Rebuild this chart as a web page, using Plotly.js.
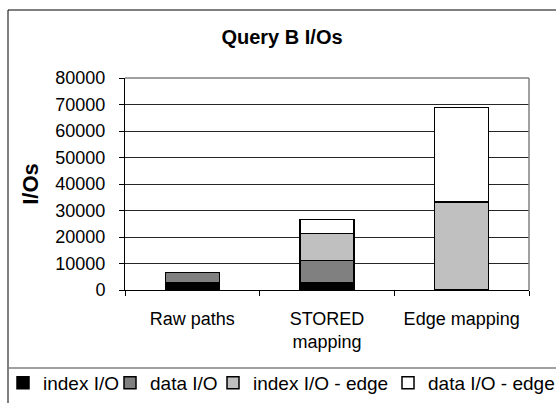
<!DOCTYPE html>
<html>
<head>
<meta charset="utf-8">
<script src="https://cdn.plot.ly/plotly-3.0.1.min.js"></script>
<style>html,body{margin:0;padding:0;background:#fff;}#chart{width:556px;height:403px;}</style>
</head>
<body>
<div id="chart"></div>
<script>
const categories = ["Raw paths", "STORED<br>mapping", "Edge mapping"];
const seriesNames = ["index I/O", "data I/O", "index I/O - edge", "data I/O - edge"];
const indexIO = [2700, 2700, 0];
const dataIO = [4000, 8500, 0];
const indexIOEdge = [0, 10200, 33300];
const dataIOEdge = [0, 5300, 35500];
const seriesColors = ["#000000", "#808080", "#c0c0c0", "#ffffff"];
const yTicks = [0, 10000, 20000, 30000, 40000, 50000, 60000, 70000, 80000];

const legendIds = ["legend", "legend2", "legend3", "legend4"];
const allSeries = [indexIO, dataIO, indexIOEdge, dataIOEdge];
const traces = allSeries.map((vals, i) => ({
  type: "bar",
  name: seriesNames[i],
  x: categories,
  y: vals,
  legend: legendIds[i],
  marker: {color: seriesColors[i], line: {color: "#000", width: 1.5}},
  hoverinfo: "none"
}));

const W = 404, H = 212;
const px2x = p => (p - 125) / W;
const py2y = p => (290 - p) / H;

const legendOrigins = [3, 110, 213, 388];
function legendAt(px) {
  return {
    orientation: "h",
    xref: "paper", x: px2x(px), xanchor: "left",
    yref: "paper", y: py2y(383), yanchor: "middle",
    font: {size: 19},
    itemwidth: 30,
    bgcolor: "rgba(0,0,0,0)"
  };
}

const layout = {
  width: 556, height: 403,
  margin: {l: 125, r: 27, t: 78, b: 113, autoexpand: false},
  paper_bgcolor: "#fff", plot_bgcolor: "#fff",
  font: {family: "Liberation Sans, Arial, sans-serif", size: 18, color: "#000"},
  barmode: "stack",
  bargap: 0.6,
  showlegend: true,
  title: {text: "<b>Query B I/Os</b>", font: {size: 20, color: "#000"},
          xref: "container", x: 282/556, xanchor: "center",
          yref: "container", y: 1 - 37/403, yanchor: "middle"},
  xaxis: {
    type: "category",
    showline: true, linecolor: "#000", linewidth: 1,
    ticks: "outside", ticklen: 5, tickcolor: "#000",
    tickson: "boundaries",
    ticklabelstandoff: 12,
    showgrid: false,
    tickfont: {size: 18}
  },
  yaxis: {
    range: [0, 80000],
    tickvals: yTicks,
    ticktext: yTicks.map(String),
    showline: true, linecolor: "#000", linewidth: 1,
    ticks: "outside", ticklen: 5, tickcolor: "#000",
    ticklabelstandoff: 10,
    showgrid: true, gridcolor: "#262626", gridwidth: 1,
    zeroline: false,
    tickfont: {size: 18},
    title: {text: "<b>I/Os</b>", font: {size: 22}, standoff: 10}
  },
  legend: legendAt(legendOrigins[0]),
  legend2: legendAt(legendOrigins[1]),
  legend3: legendAt(legendOrigins[2]),
  legend4: legendAt(legendOrigins[3]),
  shapes: [
    {type: "rect", xref: "paper", yref: "paper", x0: px2x(8), x1: px2x(570), y0: py2y(420), y1: py2y(10),
     line: {color: "#000", width: 1}, layer: "below"},
    {type: "line", xref: "paper", yref: "paper", x0: px2x(8), x1: px2x(570), y0: py2y(368), y1: py2y(368),
     line: {color: "#808080", width: 1.5}},
    {type: "line", xref: "paper", yref: "paper", x0: 0, x1: 1, y0: 1, y1: 1,
     line: {color: "#808080", width: 1.5}},
    {type: "line", xref: "paper", yref: "paper", x0: 1, x1: 1, y0: 0, y1: 1,
     line: {color: "#808080", width: 1.5}}
  ]
};

Plotly.newPlot("chart", traces, layout, {displayModeBar: false, staticPlot: true});
</script>
</body>
</html>
